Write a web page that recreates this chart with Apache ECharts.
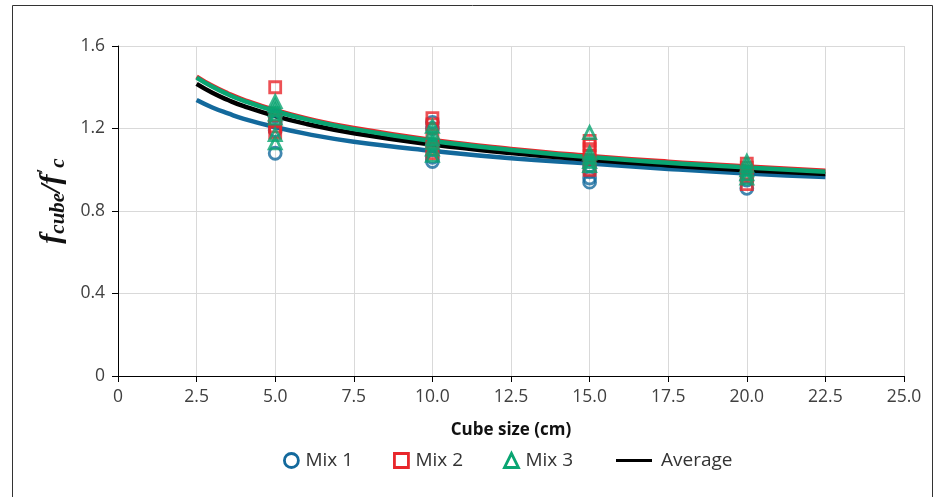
<!DOCTYPE html>
<html>
<head>
<meta charset="utf-8">
<script src="https://cdn.jsdelivr.net/npm/echarts@6/dist/echarts.min.js"></script>
<style>html,body{margin:0;padding:0;background:#fff}#c{width:938px;height:497px}</style>
</head>
<body>
<div id="c"></div>
<script>
// Fitted curves
const curveX = [2.5, 3, 3.5, 4, 5, 6, 7.5, 10, 12.5, 15, 17.5, 20, 22.5];
const mix1Curve = [1.338, 1.302, 1.273, 1.247, 1.207, 1.174, 1.136, 1.092, 1.056, 1.030, 1.004, 0.982, 0.965];
const mix2Curve = [1.452, 1.407, 1.370, 1.339, 1.289, 1.249, 1.202, 1.144, 1.101, 1.067, 1.039, 1.016, 0.995];
const mix3Curve = [1.447, 1.402, 1.365, 1.334, 1.284, 1.244, 1.197, 1.139, 1.096, 1.062, 1.034, 1.011, 0.990];
const avgCurve  = [1.416, 1.373, 1.338, 1.308, 1.260, 1.222, 1.177, 1.122, 1.081, 1.048, 1.021, 0.998, 0.979];

// Test points
const mix1X = [5, 5, 5, 5, 10, 10, 10, 10, 10, 15, 15, 15, 15, 20, 20, 20];
const mix1Y = [1.08, 1.19, 1.23, 1.26, 1.23, 1.20, 1.12, 1.06, 1.04, 0.94, 0.96, 0.99, 1.02, 0.91, 0.95, 0.98];
const mix2X = [5, 5, 5, 5, 10, 10, 10, 10, 10, 15, 15, 15, 15, 15, 20, 20, 20, 20];
const mix2Y = [1.40, 1.24, 1.21, 1.18, 1.25, 1.22, 1.15, 1.10, 1.08, 1.14, 1.12, 1.10, 1.07, 1.00, 0.93, 0.97, 1.01, 1.03];
const mix3X = [5, 5, 5, 5, 5, 5, 5, 10, 10, 10, 10, 10, 10, 15, 15, 15, 15, 15, 20, 20, 20, 20, 20];
const mix3Y = [1.33, 1.31, 1.29, 1.27, 1.25, 1.17, 1.13, 1.21, 1.18, 1.15, 1.13, 1.10, 1.07, 1.18, 1.08, 1.06, 1.04, 1.02, 1.04, 1.02, 1.00, 0.98, 0.96];

const xTicks = [0, 2.5, 5, 7.5, 10, 12.5, 15, 17.5, 20, 22.5, 25];
const yTicks = [0, 0.4, 0.8, 1.2, 1.6];

const C1 = '#13699c', C2 = '#e8262b', C3 = '#0aa572', CA = '#000000';
const CLEAR = 'rgba(255,255,255,0)';
const zip = (a, b) => a.map((v, i) => [v, b[i]]);
const fmt = v => v === 0 ? '0' : v.toFixed(1);
const mk = c => ({ color: CLEAR, borderColor: c, borderWidth: 2.8 });

const chart = echarts.init(document.getElementById('c'));
chart.setOption({
  animation: false,
  backgroundColor: '#fff',
  textStyle: { fontFamily: 'Open Sans' },
  graphic: [{
    type: 'rect', shape: { x: 12.5, y: 5.5, width: 920, height: 500 },
    style: { fill: 'none', stroke: '#333', lineWidth: 1 }, silent: true
  }],
  grid: { left: 118, right: 34, top: 46, bottom: 121 },
  legend: [{
    top: 446, left: 278, itemGap: 40, itemWidth: 14, itemHeight: 14,
    textStyle: { fontSize: 19, color: '#333', fontFamily: 'Open Sans', padding: [0, 0, 0, 2] },
    data: [
      { name: 'Mix 1', icon: 'circle', itemStyle: mk(C1) },
      { name: 'Mix 2', icon: 'rect', itemStyle: mk(C2) },
      { name: 'Mix 3', icon: 'triangle', itemStyle: mk(C3) }
    ]
  }, {
    top: 446, left: 611, itemWidth: 36, itemHeight: 3,
    textStyle: { fontSize: 19, color: '#333', fontFamily: 'Open Sans', padding: [0, 0, 0, 4] },
    data: [{ name: 'Average', icon: 'rect', itemStyle: { color: CA } }]
  }],
  xAxis: {
    type: 'value', min: 0, max: 25, interval: 2.5,
    name: 'Cube size (cm)', nameLocation: 'middle', nameGap: 46,
    nameTextStyle: { fontSize: 17, fontWeight: 'bold', color: '#111', fontFamily: 'Open Sans' },
    axisLine: { show: true, lineStyle: { color: '#000', width: 1 } },
    axisTick: { show: true, length: 6, lineStyle: { color: '#000' } },
    axisLabel: { fontSize: 17.5, color: '#404040', margin: 12, formatter: fmt },
    splitLine: { show: true, lineStyle: { color: '#d9d9d9', width: 1 } }
  },
  yAxis: {
    type: 'value', min: 0, max: 1.6, interval: 0.4,
    name: '{f|f}{s|cube}{f|/f}{p|′}{s|c}', nameLocation: 'middle', nameGap: 46, nameRotate: 90,
    nameTextStyle: {
      padding: [0, 0, 0, 20],
      rich: {
        f: { fontFamily: 'Liberation Serif', fontStyle: 'italic', fontWeight: 'bold', fontSize: 30, color: '#111' },
        s: { fontFamily: 'Liberation Serif', fontStyle: 'italic', fontWeight: 'bold', fontSize: 21, color: '#111', padding: [13, 0, 0, 0] },
        p: { fontFamily: 'Liberation Serif', fontStyle: 'italic', fontSize: 22, color: '#111', padding: [0, 2, 14, 0] }
      }
    },
    axisLine: { show: true, lineStyle: { color: '#000', width: 1 } },
    axisTick: { show: true, length: 6, lineStyle: { color: '#000' } },
    axisLabel: { fontSize: 17.5, color: '#404040', margin: 13, formatter: fmt },
    splitLine: { show: true, lineStyle: { color: '#d9d9d9', width: 1 } }
  },
  series: [
    { name: 'Mix 1', type: 'line', data: zip(curveX, mix1Curve), smooth: true, showSymbol: false, symbol: 'none',
      lineStyle: { color: C1, width: 4.5 }, itemStyle: { color: C1 }, z: 2 },
    { name: 'Average', type: 'line', data: zip(curveX, avgCurve), smooth: true, showSymbol: false, symbol: 'none',
      lineStyle: { color: CA, width: 4.5 }, itemStyle: { color: CA }, z: 3 },
    { name: 'Mix 2', type: 'line', data: zip(curveX, mix2Curve), smooth: true, showSymbol: false, symbol: 'none',
      lineStyle: { color: C2, width: 4.5 }, itemStyle: { color: C2 }, z: 4 },
    { name: 'Mix 3', type: 'line', data: zip(curveX, mix3Curve), smooth: true, showSymbol: false, symbol: 'none',
      lineStyle: { color: C3, width: 4.5 }, itemStyle: { color: C3 }, z: 5 },
    { name: 'Mix 1', type: 'scatter', data: zip(mix1X, mix1Y), symbol: 'circle', symbolSize: 12,
      itemStyle: mk(C1), z: 6 },
    { name: 'Mix 2', type: 'scatter', data: zip(mix2X, mix2Y), symbol: 'rect', symbolSize: 11,
      itemStyle: mk(C2), z: 7 },
    { name: 'Mix 3', type: 'scatter', data: zip(mix3X, mix3Y), symbol: 'triangle', symbolSize: 12,
      itemStyle: mk(C3), z: 8 }
  ]
});
</script>
</body>
</html>
